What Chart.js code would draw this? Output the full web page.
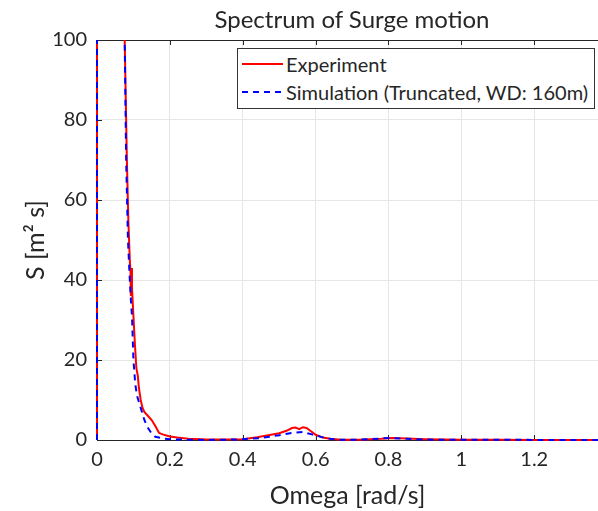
<!DOCTYPE html>
<html lang="en">

<head>
    <meta charset="UTF-8">
    <title>Spectrum of Surge motion</title>
    <script src="https://cdn.jsdelivr.net/npm/chart.js"></script>
    <style>
        body { margin: 0; background: #fff; }
        #wrap { position: relative; width: 598px; height: 511px; font-family: Lato, "Open Sans", sans-serif; color: #262626; }
        #title { position: absolute; left: 0; top: 5px; width: 704px; text-align: center; font-size: 24px; line-height: 1.2; }
        #legend { position: absolute; left: 237px; top: 48px; width: 358px; height: 61px; border: 1px solid #333; background: #fff; box-sizing: border-box; font-size: 20px; }
        .row { position: absolute; left: 4px; height: 24px; display: flex; align-items: center; white-space: nowrap; }
        .row svg { margin-right: 3px; }
    </style>
</head>

<body>
    <div id="wrap">
        <canvas id="surgeChart" width="598" height="511"></canvas>
        <div id="title">Spectrum of Surge motion</div>
        <div id="legend"></div>
    </div>

    <script>
        // values: omega [rad/s] and S [m^2 s]
        const expOmega = [0, 0, 0.07, 0.076, 0.079, 0.082, 0.086, 0.09, 0.092, 0.093, 0.094, 0.096, 0.1, 0.104, 0.108, 0.112, 0.115, 0.12, 0.125, 0.13, 0.14, 0.15, 0.16, 0.17, 0.18, 0.2, 0.22, 0.25, 0.3, 0.35, 0.4, 0.44, 0.47, 0.5, 0.52, 0.535, 0.545, 0.555, 0.565, 0.575, 0.59, 0.6, 0.62, 0.64, 0.67, 0.72, 0.78, 0.81, 0.85, 0.9, 0.95, 1.0, 1.1, 1.2, 1.375];
        const expS = [0, 400, 200, 100, 85, 70, 55, 45, 42, 36, 43, 38, 31, 24, 18, 16, 13, 10, 8, 7, 6, 5, 3.5, 1.8, 1.4, 0.9, 0.6, 0.3, 0.15, 0.1, 0.2, 0.7, 1.2, 1.7, 2.3, 3.0, 3.1, 2.7, 3.2, 3.0, 2.0, 1.3, 0.6, 0.3, 0.05, 0.05, 0.3, 0.5, 0.35, 0.2, 0.1, 0.05, 0.05, 0.03, 0.03];

        const simOmega = [0, 0, 0.072, 0.076, 0.08, 0.085, 0.089, 0.093, 0.096, 0.1, 0.105, 0.11, 0.12, 0.13, 0.138, 0.15, 0.16, 0.18, 0.2, 0.25, 0.3, 0.35, 0.4, 0.45, 0.5, 0.53, 0.565, 0.59, 0.61, 0.63, 0.66, 0.7, 0.75, 0.8, 0.85, 0.9, 1.0, 1.2, 1.375];
        const simS = [0, 400, 150, 100, 70, 50, 42, 35, 31, 20, 14, 11, 8, 5, 3.3, 1.6, 0.8, 0.4, 0.2, 0.05, 0.02, 0.05, 0.2, 0.5, 1.2, 1.7, 2.0, 1.4, 0.9, 0.4, 0.1, 0.05, 0.2, 0.5, 0.3, 0.1, 0.05, 0.03, 0.02];

        const seriesLabels = ['Experiment', 'Simulation (Truncated, WD: 160m)'];
        const xTicks = [0, 0.2, 0.4, 0.6, 0.8, 1, 1.2];
        const yTicks = [0, 20, 40, 60, 80, 100];

        const toPoints = (xs, ys) => xs.map((x, i) => ({ x: x, y: ys[i] }));
        const tickFont = { family: 'Lato', size: 20 };
        const axisColor = '#262626';

        // box round the axes with inward ticks, matlab style (drawn under the lines)
        const boxPlugin = {
            id: 'box',
            beforeDatasetsDraw(chart) {
                const ctx = chart.ctx;
                const a = chart.chartArea;
                const xs = chart.scales.x, ys = chart.scales.y;
                ctx.save();
                ctx.strokeStyle = axisColor;
                ctx.lineWidth = 1;
                ctx.beginPath();
                ctx.moveTo(a.right + 1, a.top + 0.5);
                ctx.lineTo(a.left + 0.5, a.top + 0.5);
                ctx.lineTo(a.left + 0.5, a.bottom + 0.5);
                ctx.lineTo(a.right + 1, a.bottom + 0.5);
                xs.ticks.forEach(t => {
                    const px = Math.round(xs.getPixelForValue(t.value)) + 0.5;
                    ctx.moveTo(px, a.bottom); ctx.lineTo(px, a.bottom - 5);
                    ctx.moveTo(px, a.top); ctx.lineTo(px, a.top + 5);
                });
                ys.ticks.forEach(t => {
                    const py = Math.round(ys.getPixelForValue(t.value)) + 0.5;
                    ctx.moveTo(a.left, py); ctx.lineTo(a.left + 5, py);
                });
                ctx.stroke();
                ctx.restore();
            }
        };

        const ctx = document.getElementById('surgeChart').getContext('2d');
        const chart = new Chart(ctx, {
            type: 'line',
            data: {
                datasets: [
                    {
                        label: seriesLabels[0],
                        data: toPoints(expOmega, expS),
                        borderColor: '#ff0000',
                        borderWidth: 2,
                        pointRadius: 0,
                        tension: 0,
                        fill: false,
                        clip: { left: 2, bottom: 2, top: 0, right: 0 },
                        order: 2
                    },
                    {
                        label: seriesLabels[1],
                        data: toPoints(simOmega, simS),
                        borderColor: '#0000ff',
                        borderWidth: 2,
                        borderDash: [6, 5],
                        pointRadius: 0,
                        tension: 0,
                        fill: false,
                        clip: { left: 2, bottom: 2, top: 0, right: 0 },
                        order: 1
                    }
                ]
            },
            options: {
                responsive: false,
                animation: false,
                layout: { padding: { top: 40, right: 0, left: 0, bottom: 0 } },
                plugins: {
                    legend: { display: false },
                    title: { display: false },
                    tooltip: { enabled: false }
                },
                scales: {
                    x: {
                        type: 'linear',
                        min: 0,
                        max: 1.375,
                        afterBuildTicks: s => { s.ticks = xTicks.map(v => ({ value: v })); },
                        afterFit: s => { s.height = 71; },
                        grid: { color: '#e6e6e6', drawTicks: false },
                        border: { display: false },
                        ticks: {
                            font: tickFont, color: axisColor, padding: 8, maxRotation: 0,
                            callback: v => String(+v.toFixed(1))
                        },
                        title: {
                            display: true, text: 'Omega [rad/s]', color: axisColor,
                            font: { family: 'Lato', size: 25 }, padding: { top: 0, bottom: 0 }
                        }
                    },
                    y: {
                        min: 0,
                        max: 100,
                        afterBuildTicks: s => { s.ticks = yTicks.map(v => ({ value: v })); },
                        afterFit: s => { s.width = 97; },
                        grid: { color: '#e6e6e6', drawTicks: false },
                        border: { display: false },
                        ticks: { font: tickFont, color: axisColor, padding: 10 },
                        title: {
                            display: true, text: 'S [m\u00B2 s]', color: axisColor,
                            font: { family: 'Lato', size: 25 }, padding: { top: 21, bottom: 0 }
                        }
                    }
                }
            },
            plugins: [boxPlugin]
        });

        // legend in the top right corner of the axes
        const legendDiv = document.getElementById('legend');
        chart.data.datasets.forEach((ds, i) => {
            const row = document.createElement('div');
            row.className = 'row';
            row.style.top = (3 + i * 28) + 'px';
            const dash = ds.borderDash ? 'stroke-dasharray="6 5"' : '';
            row.innerHTML = '<svg width="41" height="4"><line x1="0" y1="2" x2="41" y2="2" stroke="' +
                ds.borderColor + '" stroke-width="2" ' + dash + '/></svg><span>' + ds.label + '</span>';
            legendDiv.appendChild(row);
        });
    </script>
</body>

</html>
